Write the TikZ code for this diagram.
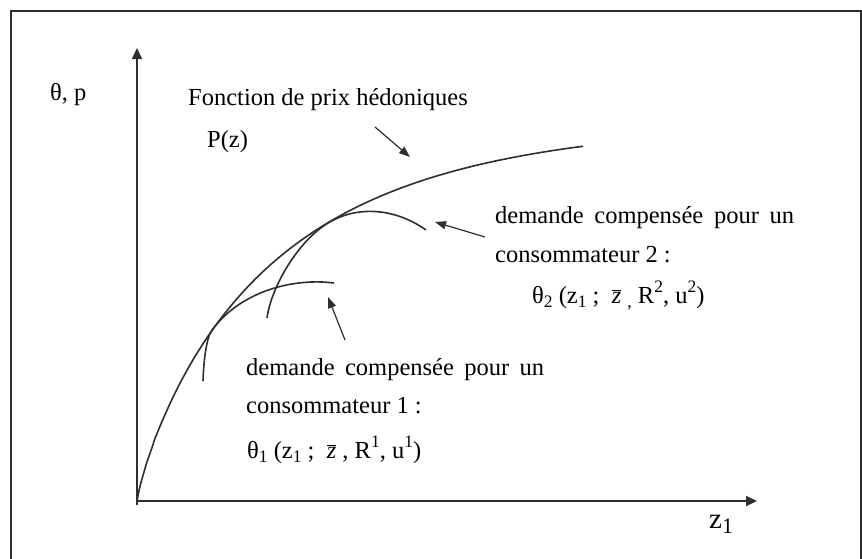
\documentclass[tikz,border=0pt]{standalone}
\usepackage{fontspec}
\setmainfont{Liberation Serif}
\usetikzlibrary{arrows.meta}
\definecolor{lc}{HTML}{2E2E2E}
\newcommand{\lo}[1]{\raisebox{-0.2em}{\fontsize{17.5}{17.5}\selectfont #1}}
\newcommand{\hi}[1]{\raisebox{0.42em}{\fontsize{17.5}{17.5}\selectfont #1}}
\newcommand{\zbar}{\ensuremath{\overline{\mbox{\itshape z}}}}
\begin{document}
\begin{tikzpicture}[x=1pt,y=-1pt,
  lbl/.style={inner sep=0pt,anchor=base west,font=\fontsize{24.5}{29}\selectfont},
  frm/.style={draw=lc,line width=2pt},
  axis/.style={draw=lc,line width=2pt,-{Triangle[length=11pt,width=10pt]}},
  crv/.style={draw=lc,line width=1.6pt},
  ptr/.style={draw=lc,line width=1.2pt,-{Triangle[length=11pt,width=8pt]}}]
\useasboundingbox (0,0) rectangle (862,558);
% frame
\coordinate (F1) at (11,575);
\coordinate (F2) at (11,11);
\coordinate (F3) at (860.5,11);
\coordinate (F4) at (860.5,575);
\draw[frm] (F1) -- (F2) -- (F3) -- (F4);
% axes
\coordinate (O) at (137,501);
\coordinate (Ob) at (137,505);
\coordinate (Ytip) at (137,48);
\coordinate (Xtip) at (757,501);
\draw[axis] (Ob) -- (Ytip);
\draw[axis] (O) -- (Xtip);
% hedonic price curve
\draw[crv] plot[domain=0.001:446,samples=200,smooth,variable=\u]
  ({137+\u},{501-380*(1-exp(-((\u/138)^0.85)))});
% consumer 2 bid curve
\coordinate (B2a) at (267,318);
\coordinate (T2) at (328,223);
\coordinate (B2b) at (426,230);
\draw[crv] (B2a) .. controls (271,288) and (297,242) .. (T2)
  .. controls (360,203.8) and (398,210) .. (B2b);
% consumer 1 bid curve
\coordinate (B1a) at (203,381);
\coordinate (T1) at (212,330);
\coordinate (B1b) at (334,283);
\draw[crv] (B1a) .. controls (203.5,364) and (206,338) .. (T1)
  .. controls (242,289.8) and (295,278) .. (B1b);
% pointers
\coordinate (A1s) at (375,127); \coordinate (A1e) at (410,157);
\coordinate (A2s) at (485,237); \coordinate (A2e) at (435,222);
\coordinate (A3s) at (345,340); \coordinate (A3e) at (328,297);
\draw[ptr] (A1s) -- (A1e);
\draw[ptr] (A2s) -- (A2e);
\draw[ptr] (A3s) -- (A3e);
% labels
\node[lbl] (ylab) at (50,100) {θ, p};
\node[lbl] (fct) at (188,105) {Fonction de prix hédoniques};
\node[lbl] (pz) at (207,147) {P(z)};
\node[lbl] (c2a) at (495,223) {\makebox[299pt][s]{demande compensée pour un}};
\node[lbl] (c2b) at (495,262) {consommateur 2 :};
\node[lbl] (c2c) at (532,303) {θ\lo{2} (z\lo{1} ;\ \ \zbar\ \lo{,}\ R\hi{2}, u\hi{2})};
\node[lbl] (c1a) at (246,375) {\makebox[298pt][s]{demande compensée pour un}};
\node[lbl] (c1b) at (246,413) {consommateur 1 :};
\node[lbl] (c1c) at (247,458) {θ\lo{1} (z\lo{1} ;\ \ \zbar\ , R\hi{1}, u\hi{1})};
\node[lbl,font=\fontsize{29}{34}\selectfont] (xlab) at (709,528) {z\lo{\fontsize{22}{22}\selectfont 1}};
\end{tikzpicture}
\end{document}
